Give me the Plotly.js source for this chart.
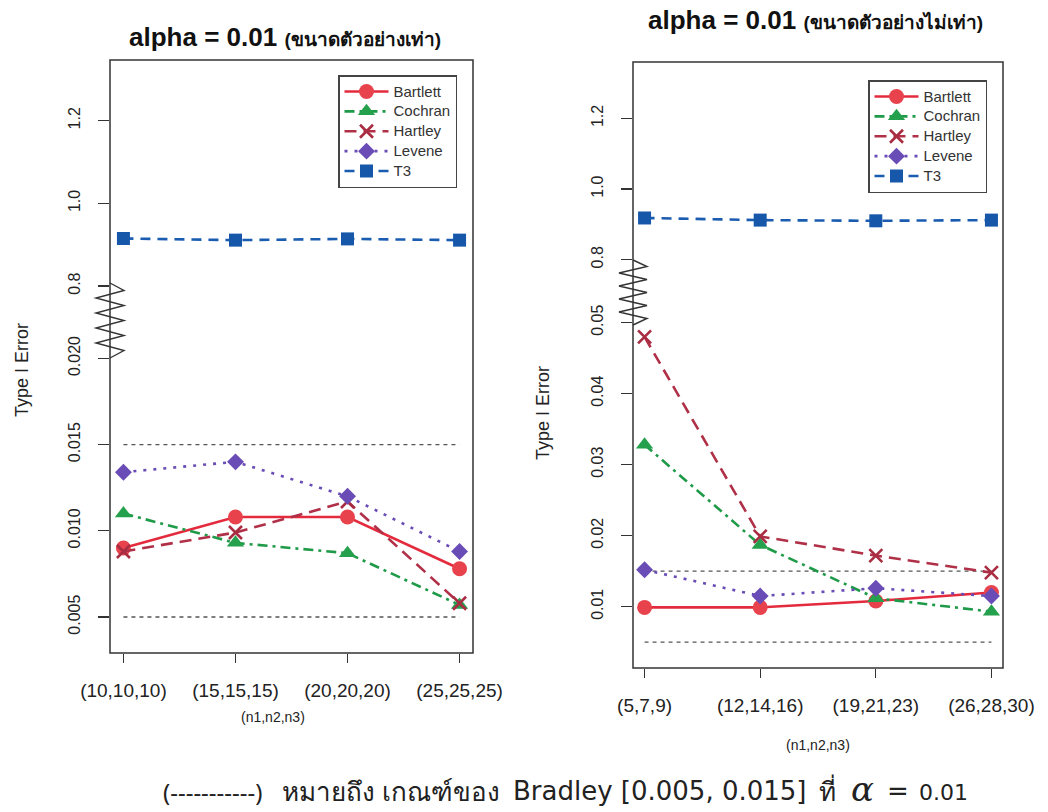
<!DOCTYPE html>
<html>
<head>
<meta charset="utf-8">
<script src="https://cdn.plot.ly/plotly-3.0.1.min.js"></script>
<style>html,body{margin:0;padding:0;background:#fff;}#chart{width:1048px;height:812px;}</style>
</head>
<body>
<div id="chart"></div>
<script>
// ---------------- DATA ----------------
const methods = ["Bartlett", "Cochran", "Hartley", "Levene", "T3"];
const xPos = [1, 2, 3, 4];
const equalLabels = ["(10,10,10)", "(15,15,15)", "(20,20,20)", "(25,25,25)"];
const unequalLabels = ["(5,7,9)", "(12,14,16)", "(19,21,23)", "(26,28,30)"];

// Equal sample sizes (left panel)
const eqBartlett = [0.0090, 0.0108, 0.0108, 0.0078];
const eqCochran  = [0.0110, 0.0093, 0.0087, 0.0057];
const eqHartley  = [0.0088, 0.0099, 0.0117, 0.0058];
const eqLevene   = [0.0134, 0.0140, 0.0120, 0.0088];
const eqT3       = [0.915, 0.911, 0.914, 0.911];

// Unequal sample sizes (right panel)
const unBartlett = [0.0099, 0.0099, 0.0108, 0.0120];
const unCochran  = [0.0328, 0.0187, 0.0112, 0.0093];
const unHartley  = [0.0480, 0.0199, 0.0172, 0.0148];
const unLevene   = [0.0152, 0.0115, 0.0126, 0.0115];
const unT3       = [0.918, 0.912, 0.910, 0.912];

// Bradley criterion
const bradley = [0.005, 0.015];

const eqLowTicks = [0.005, 0.010, 0.015, 0.020];
const eqLowTickText = ["0.005", "0.010", "0.015", "0.020"];
const unLowTicks = [0.01, 0.02, 0.03, 0.04, 0.05];
const unLowTickText = ["0.01", "0.02", "0.03", "0.04", "0.05"];
const upTicks = [0.8, 1.0, 1.2];
const upTickText = ["0.8", "1.0", "1.2"];

// ---------------- STYLE ----------------
const W = 1048, H = 812;
const px = v => v / W;
const py = v => 1 - v / H;

const styles = {
  Bartlett: {color: "#e32b3d", mcolor: "#e8434c", dash: "solid", symbol: "circle", size: 15},
  Cochran:  {color: "#1f9a48", mcolor: "#25a04c", dash: "10px,5px,3px,5px", symbol: "triangle-up", size: 15},
  Hartley:  {color: "#b03048", mcolor: "#a82c42", dash: "12px,7px", symbol: "x-thin-open", size: 13},
  Levene:   {color: "#6a4cb6", mcolor: "#6a4cb6", dash: "3px,7px", symbol: "diamond", size: 13},
  T3:       {color: "#1a5cb0", mcolor: "#1657aa", dash: "10px,7px", symbol: "square", size: 13}
};

const FONT = "Liberation Sans, Arial, sans-serif";

function mk(name, y, xa, ya, legend) {
  const s = styles[name];
  return {
    type: "scatter", mode: "lines+markers",
    name: "<span style='font-size:15px'>" + name + "</span>",
    x: xPos, y: y, xaxis: xa, yaxis: ya, legend: legend, showlegend: true,
    line: {color: s.color, width: 2.6, dash: s.dash},
    marker: {symbol: s.symbol, size: s.size, color: s.mcolor,
             line: {color: s.mcolor, width: name === "Hartley" ? 2.6 : 0}},
    hoverinfo: "x+y"
  };
}
function bradleyLine(v, xa, ya) {
  return {
    type: "scatter", mode: "lines", x: [xPos[0], xPos[xPos.length - 1]], y: [v, v],
    xaxis: xa, yaxis: ya, showlegend: false, hoverinfo: "skip",
    line: {color: "#555", width: 1.3, dash: "4px,4px"}
  };
}

const traces = [
  bradleyLine(bradley[0], "x", "y"), bradleyLine(bradley[1], "x", "y"),
  bradleyLine(bradley[0], "x2", "y3"), bradleyLine(bradley[1], "x2", "y3"),
  mk("Bartlett", eqBartlett, "x", "y", "legend"),
  mk("Cochran", eqCochran, "x", "y", "legend"),
  mk("Hartley", eqHartley, "x", "y", "legend"),
  mk("Levene", eqLevene, "x", "y", "legend"),
  mk("T3", eqT3, "x", "y2", "legend"),
  mk("Bartlett", unBartlett, "x2", "y3", "legend2"),
  mk("Cochran", unCochran, "x2", "y3", "legend2"),
  mk("Hartley", unHartley, "x2", "y3", "legend2"),
  mk("Levene", unLevene, "x2", "y3", "legend2"),
  mk("T3", unT3, "x2", "y4", "legend2")
];

// panel geometry (pixels)
const L = {x0: 110, x1: 473, y0: 60, y1: 653, brk: 320};
const R = {x0: 633, x1: 1003, y0: 62, y1: 668, brk: 292};

const tickFont = {family: FONT, size: 16, color: "#222"};
const xTickFont = {family: FONT, size: 19, color: "#222"};

function xAxis(p, labels, anchor, range) {
  return {domain: [px(p.x0), px(p.x1)], range: range, anchor: anchor,
    tickmode: "array", tickvals: xPos, ticktext: labels, ticks: "outside", ticklen: 9,
    tickcolor: "#333", tickwidth: 1.2, showline: false, showgrid: false, zeroline: false,
    tickfont: xTickFont, ticklabelstandoff: 11, fixedrange: true};
}
function yAxis(dom, range, vals, text, anchor) {
  return {domain: dom, range: range, anchor: anchor, tickmode: "array",
    tickvals: vals, ticktext: text, tickangle: -90, ticks: "outside", ticklen: 11,
    tickcolor: "#333", tickwidth: 1.2, showline: false, showgrid: false, zeroline: false,
    tickfont: tickFont, ticklabelstandoff: 12, fixedrange: true};
}

function zigzag(cx, ya, yb, amp, n) {
  let path = "M " + px(cx) + "," + py(ya);
  for (let i = 1; i <= n; i++) {
    const yy = ya + (yb - ya) * i / n;
    const xx = (i === n) ? cx : (i % 2 === 1 ? cx + amp : cx - amp);
    path += " L " + px(xx) + "," + py(yy);
  }
  return path;
}

const shapes = [
  {type: "rect", xref: "paper", yref: "paper", x0: px(L.x0), x1: px(L.x1), y0: py(L.y1), y1: py(L.y0),
   line: {color: "#333", width: 1.5}, layer: "above"},
  {type: "rect", xref: "paper", yref: "paper", x0: px(R.x0), x1: px(R.x1), y0: py(R.y1), y1: py(R.y0),
   line: {color: "#333", width: 1.5}, layer: "above"},
  {type: "path", xref: "paper", yref: "paper", path: zigzag(L.x0, 283, 358, 14, 10),
   line: {color: "#333", width: 1.4}, layer: "above"},
  {type: "path", xref: "paper", yref: "paper", path: zigzag(R.x0, 260, 325, 14, 10),
   line: {color: "#333", width: 1.4}, layer: "above"}
];

function ann(x, y, text, font, extra) {
  return Object.assign({xref: "paper", yref: "paper", x: px(x), y: py(y), xanchor: "center",
    yanchor: "middle", showarrow: false, borderpad: 0, text: text, font: font}, extra || {});
}

const CAP = "Noto Sans, sans-serif";
const CAPL = "DejaVu Sans, Noto Sans, sans-serif";
const capY = 791;
const annotations = [
  ann(285, 37, "<b>alpha = 0.01</b> <b><span style='font-size:19px'>(ขนาดตัวอย่างเท่า)</span></b>",
      {family: FONT, size: 26, color: "#111"}),
  ann(815, 20, "<b>alpha = 0.01</b> <b><span style='font-size:19px'>(ขนาดตัวอย่างไม่เท่า)</span></b>",
      {family: FONT, size: 26, color: "#111"}),
  ann(22, 370, "Type I Error", {family: FONT, size: 18, color: "#222"}, {textangle: -90}),
  ann(543, 413, "Type I Error", {family: FONT, size: 18, color: "#222"}, {textangle: -90}),
  ann(273, 717, "(n1,n2,n3)", {family: FONT, size: 14, color: "#222"}),
  ann(818, 745, "(n1,n2,n3)", {family: FONT, size: 14, color: "#222"}),
  // caption pieces
  ann(162, capY, "(-----------)", {family: CAP, size: 24, color: "#222"}, {xanchor: "left"}),
  ann(281, capY, "หมายถึง เกณฑ์ของ", {family: CAP, size: 26, color: "#222"}, {xanchor: "left"}),
  ann(512, capY, "Bradley [0.005, 0.015]", {family: CAPL, size: 26, color: "#222"}, {xanchor: "left"}),
  ann(818, capY, "ที่", {family: CAP, size: 26, color: "#222"}, {xanchor: "left"}),
  ann(850, capY - 2, "<i>α</i>", {family: "DejaVu Serif, serif", size: 34, color: "#222"}, {xanchor: "left"}),
  ann(898, capY, "=", {family: CAPL, size: 26, color: "#222"}),
  ann(918, capY + 1, "0.01", {family: CAPL, size: 22, color: "#222"}, {xanchor: "left"})
];

const legendBase = {
  bgcolor: "#fff", bordercolor: "#444", borderwidth: 1.5, xanchor: "left", yanchor: "top",
  font: {family: FONT, size: 13, color: "#333"}, tracegroupgap: 0, itemwidth: 44,
  traceorder: "normal"
};

const layout = {
  width: W, height: H, margin: {l: 0, r: 0, t: 0, b: 0},
  paper_bgcolor: "#fff", plot_bgcolor: "rgba(0,0,0,0)",
  xaxis: xAxis(L, equalLabels, "y", [0.88, 4.12]),
  yaxis: yAxis([py(L.y1), py(L.brk)], [0.002912, 0.022227], eqLowTicks, eqLowTickText, "x"),
  yaxis2: yAxis([py(L.brk), py(L.y0)], [0.7177, 1.347], upTicks, upTickText, "x"),
  xaxis2: xAxis(R, unequalLabels, "y3", [0.9, 4.1]),
  yaxis3: yAxis([py(R.y1), py(R.brk)], [0.001366, 0.05432], unLowTicks, unLowTickText, "x2"),
  yaxis4: yAxis([py(R.brk), py(R.y0)], [0.7086, 1.3593], upTicks, upTickText, "x2"),
  legend: Object.assign({}, legendBase, {x: px(338), y: py(75)}),
  legend2: Object.assign({}, legendBase, {x: px(868), y: py(80)}),
  shapes: shapes,
  annotations: annotations,
  hovermode: "closest"
};

Plotly.newPlot("chart", traces, layout, {displayModeBar: false, staticPlot: true});
</script>
</body>
</html>
